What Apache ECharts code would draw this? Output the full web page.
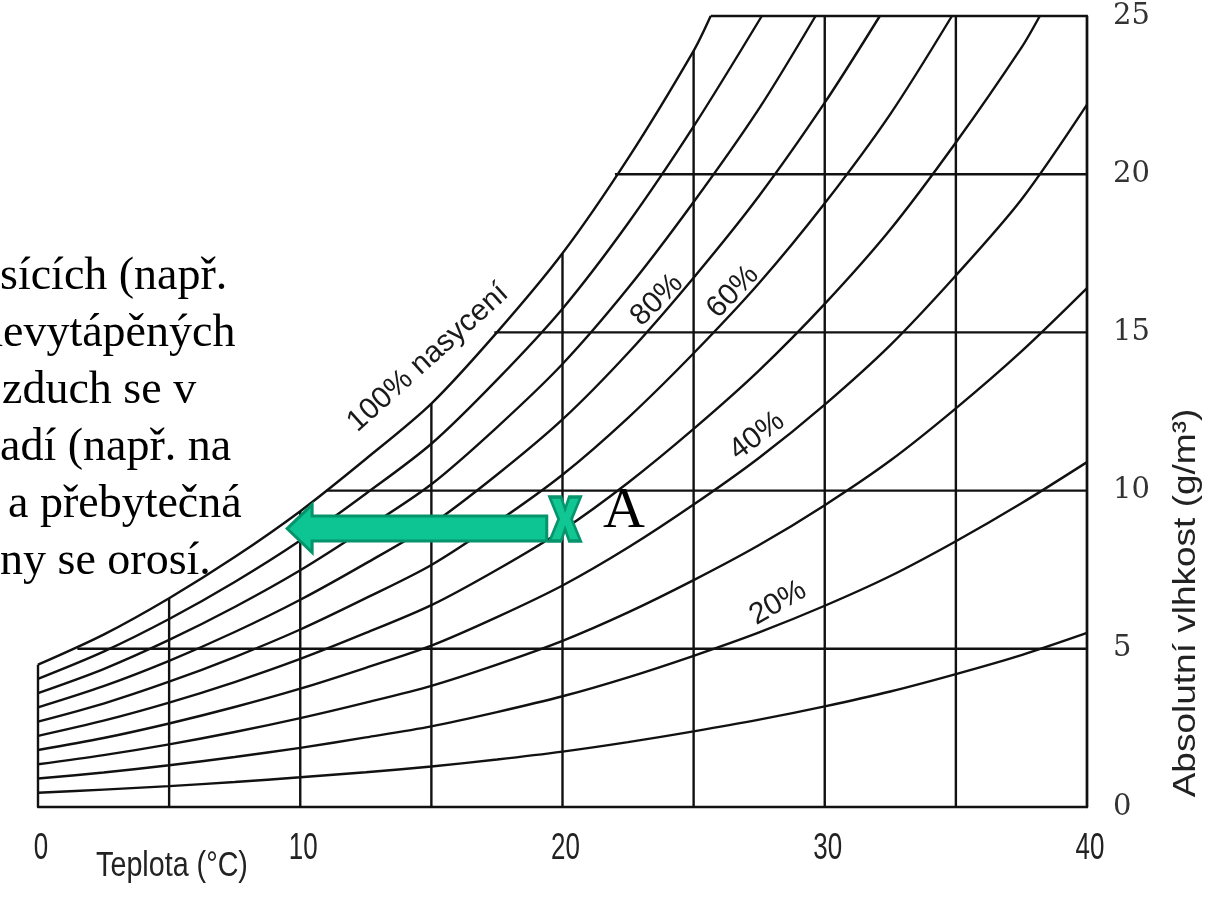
<!DOCTYPE html>
<html>
<head>
<meta charset="utf-8">
<script src="https://cdn.jsdelivr.net/npm/echarts@6.0.0/dist/echarts.min.js"></script>
<style>
html,body{margin:0;padding:0;background:#fff;}
#chart{width:1208px;height:905px;}
</style>
</head>
<body>
<div id="chart"></div>
<script>
// ---- data ----
const temps = [0,2.5,5,7.5,10,12.5,15,17.5,20,22.5,25,27.5,30,32.5,35,37.5,40];
const rh10  = [0.45,0.55,0.66,0.79,0.94,1.10,1.28,1.50,1.75,2.05,2.39,2.76,3.18,3.65,4.20,4.80,5.50];
const rh20  = [0.90,1.09,1.32,1.58,1.87,2.20,2.55,3.00,3.50,4.10,4.78,5.52,6.36,7.30,8.40,9.60,10.9];
const rh30  = [1.35,1.64,1.98,2.37,2.81,3.30,3.83,4.50,5.25,6.15,7.17,8.28,9.54,10.95,12.6,14.4,16.4];
const rh40  = [1.80,2.18,2.64,3.16,3.74,4.40,5.10,6.00,7.00,8.20,9.56,11.04,12.72,14.6,16.8,19.2,22.2];
const rh50  = [2.25,2.73,3.30,3.95,4.68,5.50,6.38,7.50,8.75,10.25,11.95,13.8,15.9,18.25,21.0,24.0];
const rh60  = [2.70,3.27,3.96,4.74,5.61,6.60,7.65,9.00,10.5,12.3,14.34,16.56,19.08,21.9];
const rh70  = [3.15,3.82,4.62,5.53,6.55,7.70,8.93,10.5,12.25,14.35,16.73,19.32,22.26];
const rh80  = [3.60,4.36,5.28,6.32,7.48,8.80,10.2,12.0,14.0,16.4,19.12,22.08];
const rh90  = [4.05,4.91,5.94,7.11,8.42,9.90,11.48,13.5,15.75,18.45,21.51];
const rh100 = [4.50,5.45,6.60,7.90,9.35,11.0,12.75,15.0,17.5,20.5,23.9];
// temperature at which each curve reaches the 25 g/m3 top line (null = does not reach it)
const topCross = [null,null,null,null,38.2,34.85,32.1,29.65,27.6,25.65];

// grid lines of the chart
const vGridT   = [0,5,10,15,20,25,30,35,40];
const vGridTop = [4.5,6.6,9.35,12.75,17.5,23.9,25,25,25];
const hGridY     = [5,10,15,20,25];
const hGridStart = [1.5,11.0,17.4,22.0,25.65];

const xTicks = [0,10,20,30,40];
const yTicks = [0,5,10,15,20,25];

// point A and the cooling arrow (data coordinates)
const pointA = [20.1, 9.1];
const arrowFrom = [19.4, 8.8];
const arrowTo   = [9.5, 8.8];

const leftText = ['sících (např.', 'nevytápěných', 'zduch se v', 'adí (např. na', 'a přebytečná', 'ny se orosí.'];

// ---- chart ----
const chart = echarts.init(document.getElementById('chart'));
const INK = '#111';
const LW = 2.4;
const series = [];
const curves = [rh10,rh20,rh30,rh40,rh50,rh60,rh70,rh80,rh90,rh100];
curves.forEach((vals, i) => {
  const data = vals.map((v, j) => [temps[j], v]);
  if (topCross[i] != null) data.push([topCross[i], 25]);
  series.push({type:'line', data, smooth:0.3, showSymbol:false, silent:true, z:2,
    lineStyle:{color:INK, width:LW}});
});
vGridT.forEach((t, i) => {
  series.push({type:'line', data:[[t,0],[t,vGridTop[i]]], showSymbol:false, silent:true, clip:false, z:2,
    lineStyle:{color:INK, width:LW}});
});
hGridY.forEach((y, i) => {
  series.push({type:'line', data:[[hGridStart[i],y],[40,y]], showSymbol:false, silent:true, clip:false, z:2,
    lineStyle:{color:INK, width:LW}});
});
series.push({type:'scatter', data:[pointA], z:10, silent:true,
  symbol:'path://M0,0 L3.7,0 L5,2.7 L6.3,0 L10,0 L7.1,5 L10,10 L6.3,10 L5,7.3 L3.7,10 L0,10 L2.9,5 Z',
  symbolKeepAspect:false, symbolSize:[31,44],
  itemStyle:{color:'#10C693', borderColor:'#05946B', borderWidth:3, opacity:1}});

chart.setOption({
  animation:false,
  backgroundColor:'#fff',
  grid:{left:38, right:121, top:16, bottom:98},
  xAxis:{type:'value', min:0, max:40, interval:10,
    axisLine:{show:true, lineStyle:{color:INK, width:LW}},
    axisTick:{show:false}, splitLine:{show:false},
    axisLabel:{show:false}},
  yAxis:{type:'value', position:'right', min:0, max:25, interval:5,
    axisLine:{show:true, onZero:false, lineStyle:{color:INK, width:LW}},
    axisTick:{show:false}, splitLine:{show:false},
    axisLabel:{margin:26, fontSize:29, fontFamily:'"DejaVu Serif"', color:'#333',
      showMinLabel:true, showMaxLabel:true,
      formatter: v => yTicks.includes(v) ? String(v) : ''}},
  series
});

const p = (pt) => chart.convertToPixel({gridIndex:0}, pt);
const tail = p(arrowFrom), tip = p(arrowTo);
const sh = 12.5, hh = 24, hl = 25;
const arrowPts = [
  [tip[0], tip[1]],
  [tip[0]+hl, tip[1]-hh],
  [tip[0]+hl, tip[1]-sh],
  [tail[0], tail[1]-sh],
  [tail[0], tail[1]+sh],
  [tip[0]+hl, tip[1]+sh],
  [tip[0]+hl, tip[1]+hh]
];

const graphics = [];
// x tick labels (condensed look)
xTicks.forEach(t => {
  const px = p([t, 0]);
  graphics.push({type:'text', x:px[0] + 3, y:px[1] + 42, scaleX:0.72, z:20,
    style:{text:String(t), font:'36px "Liberation Sans"', fill:'#222', align:'center', verticalAlign:'middle'}});
});
leftText.forEach((s, i) => {
  const xs = [0, -20, 2, 0, 8, 0];
  graphics.push({type:'text', x:xs[i], y:277 + i*57, z:20,
    style:{text:s, font:'46px "Liberation Serif"', fill:'#000', align:'left', verticalAlign:'middle'}});
});
graphics.push({type:'polygon', z:15, shape:{points:arrowPts},
  style:{fill:'#0CC593', stroke:'#04946B', lineWidth:3}});
graphics.push({type:'text', x:603, y:512, z:20,
  style:{text:'A', font:'58px "Liberation Serif"', fill:'#000', align:'left', verticalAlign:'middle'}});
const lbl = (text, x, y, deg, size) => ({type:'text', x, y, rotation:deg*Math.PI/180, z:20,
  style:{text, font:size+'px "Liberation Sans"', fill:'#1a1a1a', align:'center', verticalAlign:'middle'}});
graphics.push(lbl('100% nasycení', 428, 358, 42, 30));
graphics.push(lbl('80%', 657, 300, 45, 30));
graphics.push(lbl('60%', 733, 292, 46, 30));
graphics.push(lbl('40%', 757, 436, 37, 30));
graphics.push(lbl('20%', 778, 603, 30, 30));
graphics.push({type:'text', x:172, y:866, scaleX:0.82, z:20,
  style:{text:'Teplota (°C)', font:'35px "Liberation Sans"', fill:'#222', align:'center', verticalAlign:'middle'}});
graphics.push({type:'text', x:1186, y:603, rotation:Math.PI/2, scaleY:0.85, z:20,
  style:{text:'Absolutní vlhkost (g/m³)', font:'37px "Liberation Sans"', fill:'#222', align:'center', verticalAlign:'middle'}});
chart.setOption({graphic:graphics});
</script>
</body>
</html>
